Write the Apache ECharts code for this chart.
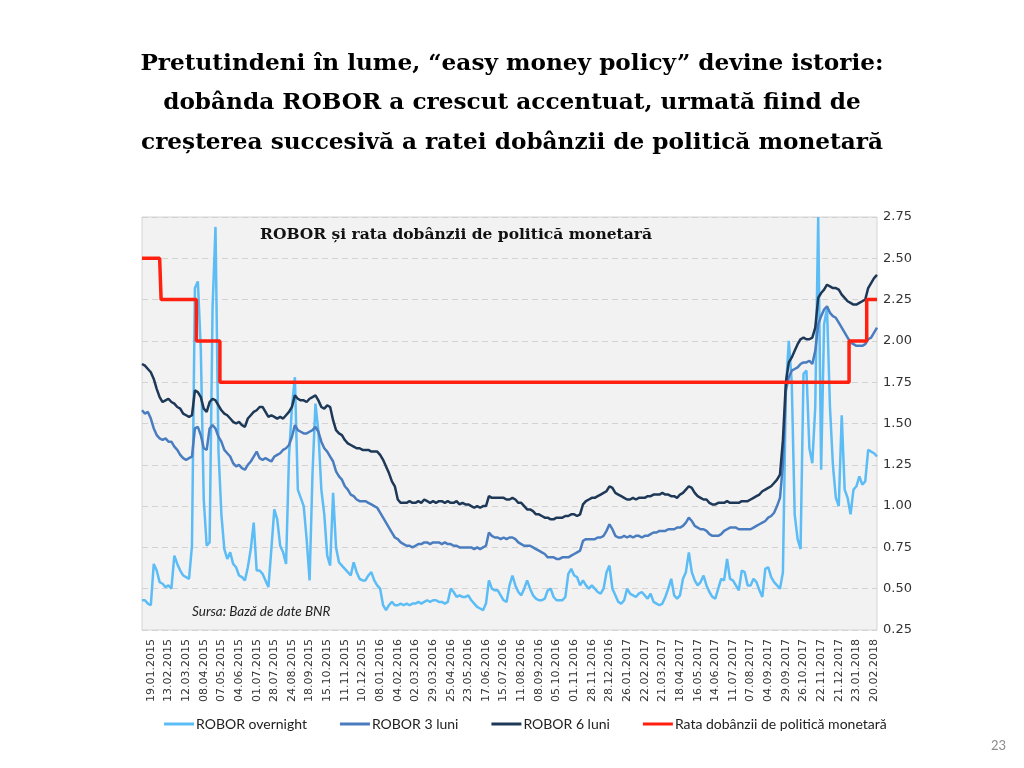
<!DOCTYPE html>
<html>
<head>
<meta charset="utf-8">
<script src="https://cdn.jsdelivr.net/npm/echarts@6/dist/echarts.min.js"></script>
<style>html,body{margin:0;padding:0;background:#fff;}#chart{width:1024px;height:768px;}</style>
</head>
<body>
<div id="chart"></div>
<script>
// Tick labels shown on the category axis (one every ~19 business days)
const tickLabels = ['19.01.2015','13.02.2015','12.03.2015','08.04.2015','07.05.2015','04.06.2015','01.07.2015','28.07.2015','24.08.2015','18.09.2015','15.10.2015','11.11.2015','10.12.2015',
'08.01.2016','04.02.2016','02.03.2016','29.03.2016','25.04.2016','23.05.2016','17.06.2016','15.07.2016','11.08.2016','08.09.2016','05.10.2016','01.11.2016','28.11.2016','28.12.2016',
'26.01.2017','22.02.2017','21.03.2017','18.04.2017','16.05.2017','14.06.2017','11.07.2017','07.08.2017','04.09.2017','29.09.2017','26.10.2017','22.11.2017','21.12.2017',
'23.01.2018','20.02.2018'];
const seriesNames = ['ROBOR overnight','ROBOR 3 luni','ROBOR 6 luni','Rata dobânzii de politică monetară'];
const titleLines = [
  'Pretutindeni în lume, “easy money policy” devine istorie:',
  'dobânda ROBOR a crescut accentuat, urmată fiind de',
  'creșterea succesivă a ratei dobânzii de politică monetară'
];

// Values sampled along the axis (6 samples per label interval, 3 before the first label, 1 after the last)
const overnight = [
0.43,0.43,0.41,0.40,0.65,0.61,0.54,0.53,0.51,0.52,
0.50,0.70,0.65,0.61,0.58,0.57,0.56,0.76,2.32,2.36,
1.95,1.04,0.76,0.78,2.20,2.69,1.34,0.95,0.74,0.68,
0.72,0.65,0.63,0.58,0.57,0.55,0.63,0.74,0.90,0.61,
0.61,0.59,0.55,0.51,0.74,0.98,0.92,0.76,0.72,0.65,
1.30,1.60,1.78,1.10,1.05,1.00,0.80,0.55,1.20,1.62,
1.45,1.10,0.95,0.70,0.64,1.08,0.75,0.66,0.64,0.62,
0.60,0.58,0.66,0.60,0.56,0.55,0.55,0.58,0.60,0.55,
0.52,0.50,0.40,0.37,0.40,0.42,0.40,0.40,0.41,0.40,
0.41,0.40,0.41,0.41,0.42,0.41,0.42,0.43,0.42,0.43,
0.43,0.42,0.42,0.41,0.42,0.50,0.48,0.45,0.46,0.45,
0.45,0.46,0.43,0.41,0.39,0.38,0.37,0.41,0.55,0.50,
0.49,0.49,0.46,0.43,0.42,0.52,0.58,0.52,0.48,0.46,
0.50,0.55,0.50,0.46,0.44,0.43,0.43,0.44,0.49,0.50,
0.45,0.43,0.43,0.43,0.45,0.59,0.62,0.58,0.57,0.52,
0.55,0.52,0.50,0.52,0.50,0.48,0.47,0.50,0.60,0.64,
0.50,0.46,0.42,0.41,0.43,0.50,0.47,0.46,0.45,0.47,
0.48,0.46,0.44,0.47,0.42,0.41,0.40,0.41,0.45,0.50,
0.56,0.46,0.44,0.46,0.56,0.60,0.72,0.60,0.55,0.52,
0.54,0.58,0.52,0.48,0.45,0.44,0.50,0.56,0.55,0.68,
0.56,0.55,0.52,0.49,0.61,0.60,0.52,0.52,0.56,0.54,
0.49,0.45,0.62,0.63,0.57,0.54,0.52,0.50,0.60,1.70,
2.00,1.75,0.95,0.80,0.74,1.80,1.82,1.35,1.26,1.60,
2.75,1.22,2.10,2.20,1.60,1.25,1.05,1.00,1.55,1.10,
1.05,0.95,1.10,1.12,1.18,1.13,1.15,1.34,1.33,1.32,
1.30];

const robor3m = [
1.58,1.56,1.57,1.53,1.47,1.43,1.41,1.40,1.41,1.39,
1.39,1.36,1.34,1.31,1.29,1.28,1.29,1.30,1.47,1.48,
1.43,1.35,1.34,1.47,1.49,1.47,1.42,1.39,1.34,1.32,
1.30,1.26,1.24,1.25,1.23,1.22,1.25,1.27,1.30,1.33,
1.29,1.28,1.29,1.28,1.27,1.30,1.31,1.32,1.34,1.35,
1.37,1.42,1.49,1.46,1.45,1.44,1.44,1.45,1.46,1.48,
1.45,1.39,1.35,1.33,1.30,1.27,1.21,1.18,1.16,1.12,
1.10,1.07,1.06,1.04,1.03,1.03,1.03,1.02,1.01,1.00,
0.99,0.96,0.93,0.90,0.87,0.84,0.81,0.80,0.78,0.77,
0.76,0.76,0.75,0.76,0.77,0.77,0.78,0.78,0.77,0.78,
0.78,0.78,0.77,0.78,0.77,0.77,0.76,0.76,0.75,0.75,
0.75,0.75,0.75,0.74,0.75,0.74,0.75,0.76,0.84,0.82,
0.81,0.81,0.80,0.81,0.80,0.81,0.81,0.80,0.78,0.77,
0.76,0.76,0.76,0.75,0.74,0.73,0.72,0.71,0.69,0.69,
0.69,0.68,0.68,0.69,0.69,0.69,0.70,0.71,0.72,0.73,
0.79,0.80,0.80,0.80,0.80,0.81,0.81,0.82,0.85,0.89,
0.86,0.82,0.81,0.81,0.82,0.81,0.82,0.81,0.82,0.82,
0.81,0.82,0.82,0.83,0.84,0.84,0.85,0.85,0.85,0.86,
0.86,0.86,0.87,0.87,0.88,0.90,0.93,0.91,0.88,0.87,
0.86,0.86,0.85,0.83,0.82,0.82,0.82,0.83,0.85,0.86,
0.87,0.87,0.87,0.86,0.86,0.86,0.86,0.86,0.87,0.88,
0.89,0.90,0.91,0.93,0.94,0.96,1.00,1.05,1.25,1.70,
1.78,1.82,1.83,1.84,1.86,1.87,1.87,1.88,1.86,1.94,
2.10,2.15,2.19,2.21,2.17,2.15,2.14,2.11,2.08,2.05,
2.02,1.99,1.98,1.97,1.97,1.97,1.98,2.01,2.02,2.05,
2.08];

const robor6m = [
1.86,1.85,1.83,1.81,1.77,1.71,1.66,1.63,1.64,1.65,
1.63,1.62,1.60,1.59,1.56,1.55,1.54,1.55,1.70,1.69,
1.66,1.59,1.57,1.63,1.65,1.64,1.61,1.58,1.56,1.55,
1.53,1.51,1.50,1.51,1.49,1.48,1.53,1.55,1.57,1.58,
1.60,1.60,1.57,1.54,1.55,1.54,1.53,1.54,1.53,1.55,
1.57,1.60,1.67,1.65,1.64,1.64,1.63,1.65,1.66,1.67,
1.64,1.60,1.59,1.61,1.60,1.52,1.46,1.44,1.43,1.40,
1.38,1.37,1.36,1.35,1.35,1.34,1.34,1.34,1.33,1.33,
1.33,1.31,1.28,1.24,1.20,1.15,1.12,1.04,1.02,1.02,
1.02,1.03,1.02,1.02,1.03,1.02,1.04,1.03,1.02,1.03,
1.02,1.03,1.03,1.02,1.03,1.02,1.02,1.03,1.01,1.02,
1.01,1.01,1.00,0.99,1.00,0.99,1.00,1.00,1.06,1.05,
1.05,1.05,1.05,1.05,1.04,1.04,1.05,1.04,1.02,1.02,
1.00,0.98,0.98,0.97,0.95,0.95,0.94,0.93,0.93,0.92,
0.92,0.93,0.93,0.93,0.94,0.94,0.95,0.95,0.94,0.95,
1.01,1.03,1.04,1.05,1.05,1.06,1.07,1.08,1.09,1.12,
1.11,1.08,1.07,1.06,1.05,1.04,1.04,1.05,1.04,1.05,
1.05,1.05,1.06,1.06,1.07,1.07,1.07,1.08,1.07,1.07,
1.06,1.06,1.05,1.07,1.08,1.10,1.12,1.11,1.08,1.06,
1.05,1.04,1.04,1.02,1.01,1.01,1.02,1.02,1.02,1.03,
1.02,1.02,1.02,1.02,1.03,1.03,1.03,1.04,1.05,1.06,
1.07,1.09,1.10,1.11,1.12,1.14,1.16,1.19,1.40,1.75,
1.87,1.90,1.94,1.98,2.01,2.02,2.01,2.01,2.02,2.08,
2.26,2.29,2.31,2.34,2.33,2.32,2.32,2.31,2.28,2.26,
2.24,2.23,2.22,2.22,2.23,2.24,2.25,2.32,2.35,2.38,
2.40];

const policyRate = [
2.50,2.50,2.50,2.50,2.50,2.50,2.50,2.25,2.25,2.25,
2.25,2.25,2.25,2.25,2.25,2.25,2.25,2.25,2.25,2.00,
2.00,2.00,2.00,2.00,2.00,2.00,2.00,1.75,1.75,1.75,
1.75,1.75,1.75,1.75,1.75,1.75,1.75,1.75,1.75,1.75,
1.75,1.75,1.75,1.75,1.75,1.75,1.75,1.75,1.75,1.75,
1.75,1.75,1.75,1.75,1.75,1.75,1.75,1.75,1.75,1.75,
1.75,1.75,1.75,1.75,1.75,1.75,1.75,1.75,1.75,1.75,
1.75,1.75,1.75,1.75,1.75,1.75,1.75,1.75,1.75,1.75,
1.75,1.75,1.75,1.75,1.75,1.75,1.75,1.75,1.75,1.75,
1.75,1.75,1.75,1.75,1.75,1.75,1.75,1.75,1.75,1.75,
1.75,1.75,1.75,1.75,1.75,1.75,1.75,1.75,1.75,1.75,
1.75,1.75,1.75,1.75,1.75,1.75,1.75,1.75,1.75,1.75,
1.75,1.75,1.75,1.75,1.75,1.75,1.75,1.75,1.75,1.75,
1.75,1.75,1.75,1.75,1.75,1.75,1.75,1.75,1.75,1.75,
1.75,1.75,1.75,1.75,1.75,1.75,1.75,1.75,1.75,1.75,
1.75,1.75,1.75,1.75,1.75,1.75,1.75,1.75,1.75,1.75,
1.75,1.75,1.75,1.75,1.75,1.75,1.75,1.75,1.75,1.75,
1.75,1.75,1.75,1.75,1.75,1.75,1.75,1.75,1.75,1.75,
1.75,1.75,1.75,1.75,1.75,1.75,1.75,1.75,1.75,1.75,
1.75,1.75,1.75,1.75,1.75,1.75,1.75,1.75,1.75,1.75,
1.75,1.75,1.75,1.75,1.75,1.75,1.75,1.75,1.75,1.75,
1.75,1.75,1.75,1.75,1.75,1.75,1.75,1.75,1.75,1.75,
1.75,1.75,1.75,1.75,1.75,1.75,1.75,1.75,1.75,1.75,
1.75,1.75,1.75,1.75,1.75,1.75,1.75,1.75,1.75,1.75,
1.75,2.00,2.00,2.00,2.00,2.00,2.00,2.25,2.25,2.25,
2.25];

// Build the category list: labels placed every 6th sample
const LEAD = 3, PER = 6, TRAIL = 1;
const categories = [];
for (let i = 0; i < LEAD; i++) categories.push('');
tickLabels.forEach((lab, k) => {
  if (k > 0) for (let i = 0; i < PER - 1; i++) categories.push('');
  categories.push(lab);
});
for (let i = 0; i < TRAIL; i++) categories.push('');

const chart = echarts.init(document.getElementById('chart'), null, {renderer: 'canvas'});
const serif = '"DejaVu Serif", Georgia, serif';
const lineY = [62, 101.5, 141];
chart.setOption({
  backgroundColor: '#ffffff',
  animation: false,
  graphic: titleLines.map((t, i) => ({
    type: 'text', left: 'center', top: lineY[i] - 10,
    style: {text: t, font: 'bold 23.2px ' + serif, fill: '#000'}
  })),
  title: [
    {
      text: 'ROBOR și rata dobânzii de politică monetară',
      left: 456, top: 225, padding: 0, textAlign: 'center',
      textStyle: {fontFamily: serif, fontWeight: 'bold', fontSize: 15.5, lineHeight: 20, color: '#111'}
    },
    {
      text: 'Sursa: Bază de date BNR',
      left: 192, top: 604, padding: 0,
      textStyle: {fontFamily: 'Lato, "Open Sans", sans-serif', fontStyle: 'italic', fontWeight: 'normal', fontSize: 13.5, lineHeight: 16, color: '#222'}
    },
    {
      text: '23',
      left: 991, top: 738, padding: 0,
      textStyle: {fontFamily: 'Lato, sans-serif', fontWeight: 'normal', fontSize: 13, lineHeight: 16, color: '#8c8c8c'}
    }
  ],
  legend: {
    data: seriesNames,
    top: 712, left: 159,
    icon: 'rect', itemWidth: 30, itemHeight: 3, itemGap: 33,
    textStyle: {fontFamily: 'Lato, "Open Sans", sans-serif', fontSize: 14, color: '#222', padding: [0,0,0,-3]}
  },
  grid: {
    left: 142, right: 147, top: 217, bottom: 138,
    show: true, backgroundColor: '#f2f2f2', borderColor: '#d4d4d4', borderWidth: 1
  },
  xAxis: {
    type: 'category', data: categories, boundaryGap: false,
    axisLine: {show: false}, axisTick: {show: false}, splitLine: {show: false},
    axisLabel: {
      interval: (i, v) => v !== '', rotate: 90, margin: 9,
      fontFamily: '"DejaVu Sans", Verdana, sans-serif', fontSize: 11, color: '#333'
    }
  },
  yAxis: {
    type: 'value', position: 'right', min: 0.25, max: 2.75, interval: 0.25,
    axisLine: {show: false}, axisTick: {show: false},
    axisLabel: {formatter: v => v.toFixed(2), margin: 6, fontFamily: '"DejaVu Sans", sans-serif', fontSize: 13, color: '#333'},
    splitLine: {show: true, lineStyle: {color: '#d2d2d2', width: 1, type: [6, 4]}}
  },
  series: [
    {name: seriesNames[0], type: 'line', data: overnight, symbol: 'none', color: '#5cbcf5', lineStyle: {width: 2.5, color: '#5cbcf5'}},
    {name: seriesNames[1], type: 'line', data: robor3m, symbol: 'none', color: '#4a7dbf', lineStyle: {width: 2.5, color: '#4a7dbf'}},
    {name: seriesNames[2], type: 'line', data: robor6m, symbol: 'none', color: '#1e3857', lineStyle: {width: 2.5, color: '#1e3857'}},
    {name: seriesNames[3], type: 'line', data: policyRate, step: 'middle', symbol: 'none', color: '#ff2010', lineStyle: {width: 3.5, color: '#ff2010'}}
  ]
});
</script>
</body>
</html>
